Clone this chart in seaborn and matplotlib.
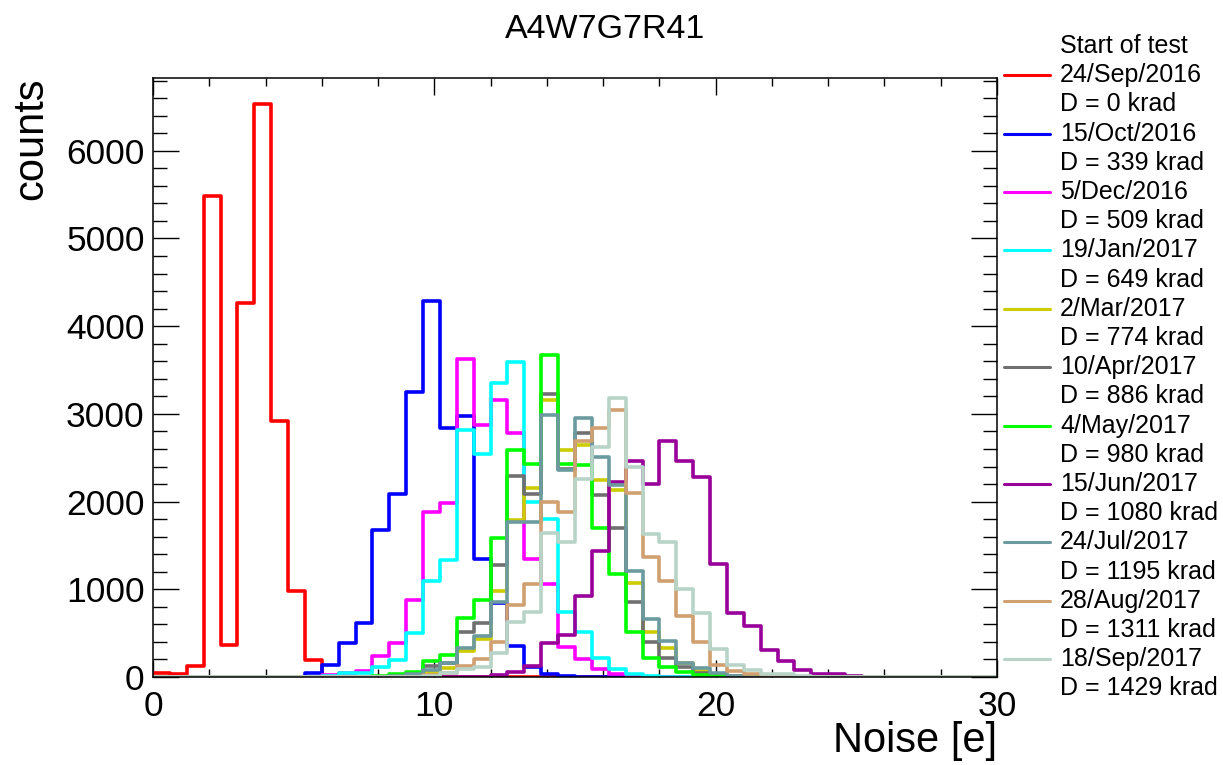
import numpy as np
import pandas as pd
import matplotlib
matplotlib.use("Agg")
import matplotlib.pyplot as plt
from matplotlib.ticker import MultipleLocator
from matplotlib.lines import Line2D
import seaborn as sns

# ---- data (50 bins of width 0.6 from 0 to 30) ----
bin_edges = [round(0.6 * k, 6) for k in range(51)]
bin_centers = [0.5 * (bin_edges[k] + bin_edges[k + 1]) for k in range(50)]

def pad(start, vals):
    arr = np.zeros(50)
    arr[start:start + len(vals)] = vals
    return arr

red_counts = pad(0, [50, 30, 130, 5480, 370, 4260, 6530, 2920, 980, 190, 15])
blue_counts = pad(8, [5, 42, 137, 383, 611, 1681, 2091, 3249, 4290, 2840, 2972,
                      1350, 839, 350, 110, 30, 8])
magenta_counts = pad(9, [5, 23, 42, 72, 239, 383, 877, 1882, 1985, 3628, 2876,
                         3161, 2782, 1340, 1059, 342, 205, 87, 34, 15, 5])
cyan_counts = pad(10, [15, 42, 45, 118, 194, 505, 1093, 1336, 2820, 2540, 3347,
                       3590, 1994, 1806, 738, 516, 212, 93, 38, 10])
yellow_counts = pad(13, [5, 15, 30, 60, 100, 300, 429, 981, 1787, 2150, 3154,
                         2594, 2650, 2250, 2129, 1074, 512, 326, 160, 68, 30, 10])
gray_counts = pad(13, [5, 20, 45, 130, 155, 516, 611, 1280, 2288, 2087, 3229,
                       2376, 2784, 2072, 1697, 854, 398, 216, 112, 49, 20, 8])
green_counts = pad(12, [5, 15, 30, 61, 182, 250, 668, 877, 1586, 2584, 2433,
                        3666, 2430, 2420, 1700, 1180, 516, 222, 112, 61, 23, 8])
purple_counts = pad(19, [5, 20, 55, 125, 387, 475, 928, 1438, 2218, 2463, 2201,
                         2691, 2467, 2279, 1290, 725, 586, 311, 180, 80, 38, 34, 8])
teal_counts = pad(14, [10, 30, 80, 163, 326, 463, 858, 1762, 1768, 2983, 2364,
                       2950, 2504, 2186, 1209, 658, 411, 165, 99, 42, 15, 5])
orange_counts = pad(15, [5, 20, 50, 130, 201, 402, 820, 1059, 1996, 1882, 2692,
                         2835, 3047, 2093, 1366, 1093, 700, 395, 137, 70, 34, 10])
light_counts = pad(15, [5, 15, 50, 90, 118, 269, 625, 744, 1643, 1541, 2256,
                        2618, 3186, 2395, 1636, 1535, 1009, 735, 320, 137, 84,
                        38, 30, 10])

dates = ["24/Sep/2016", "15/Oct/2016", "5/Dec/2016", "19/Jan/2017", "2/Mar/2017",
         "10/Apr/2017", "4/May/2017", "15/Jun/2017", "24/Jul/2017", "28/Aug/2017",
         "18/Sep/2017"]
doses = [0, 339, 509, 649, 774, 886, 980, 1080, 1195, 1311, 1429]
colors = ["#ff0000", "#0000ff", "#ff00ff", "#00ffff", "#cccc00", "#707070",
          "#00ff00", "#990099", "#6b9b9e", "#d0a070", "#b8d4c8"]
series = [red_counts, blue_counts, magenta_counts, cyan_counts, yellow_counts,
          gray_counts, green_counts, purple_counts, teal_counts, orange_counts,
          light_counts]

title = "A4W7G7R41"
legend_header = "Start of test"
xlabel = "Noise [e]"
ylabel = "counts"

# ---- style ----
sns.set_style("ticks")
plt.rcParams["font.family"] = ["Liberation Sans", "DejaVu Sans"]
plt.rcParams["text.color"] = "black"
plt.rcParams["axes.labelcolor"] = "black"
plt.rcParams["xtick.color"] = "black"
plt.rcParams["ytick.color"] = "black"

W, H = 1223, 765
fig = plt.figure(figsize=(W / 100, H / 100), dpi=100)
ax = fig.add_axes([153 / W, 1 - 677 / H, 844 / W, 599 / H])

for counts, c in zip(series, colors):
    df = pd.DataFrame({"noise": bin_centers, "counts": counts})
    sns.histplot(data=df, x="noise", weights="counts", bins=bin_edges,
                 element="step", fill=False, color=c, linewidth=2.6, ax=ax)

ax.set_xlim(0, 30)
ax.set_ylim(0, 6830)
ax.xaxis.set_major_locator(MultipleLocator(10))
ax.xaxis.set_minor_locator(MultipleLocator(2))
ax.yaxis.set_major_locator(MultipleLocator(1000))
ax.yaxis.set_minor_locator(MultipleLocator(200))
ax.tick_params(which="both", direction="in", top=True, right=True,
               colors="black", labelcolor="black", width=1.0)
ax.tick_params(axis="y", which="major", length=19, labelsize=25.5, pad=6)
ax.tick_params(axis="y", which="minor", length=10)
ax.tick_params(axis="x", which="major", length=12, labelsize=25.5, pad=9)
ax.tick_params(axis="x", which="minor", length=6)
for s in ax.spines.values():
    s.set_linewidth(1.1)
    s.set_color("black")

ax.set_xlabel(xlabel, fontsize=30, loc="right", color="black")
ax.xaxis.set_label_coords(1.0, -0.074)
ax.set_ylabel(ylabel, fontsize=30, loc="top", color="black")
ax.yaxis.set_label_coords(-0.121, 1.0)

fig.text(0.495, 1 - 29 / H, title, ha="center", va="center", fontsize=24.5,
         color="black")

# ---- legend (ROOT-like, outside the frame on the right) ----
row_h = 29.2
y0 = 46
fig.text(1060 / W, 1 - y0 / H, legend_header, ha="left", va="center",
         fontsize=18, color="black")
for i, (d, dose, c) in enumerate(zip(dates, doses, colors)):
    yd = y0 + row_h * (1 + 2 * i)
    yk = yd + row_h
    fig.add_artist(Line2D([1004 / W, 1050 / W], [1 - yd / H, 1 - yd / H],
                          color=c, lw=2.2, transform=fig.transFigure))
    fig.text(1060 / W, 1 - yd / H, d, ha="left", va="center", fontsize=18,
             color="black")
    fig.text(1060 / W, 1 - yk / H, f"D = {dose} krad", ha="left", va="center",
             fontsize=18, color="black")

fig.savefig("out.png", dpi=100)
